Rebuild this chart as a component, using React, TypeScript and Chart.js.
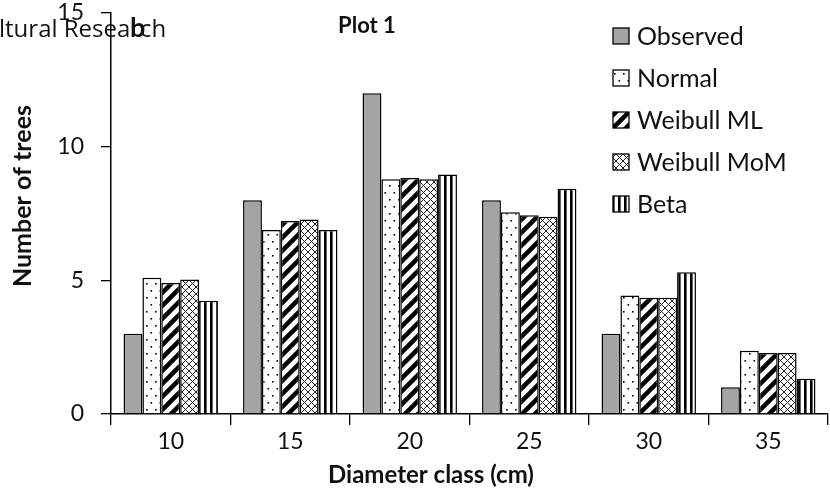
import React, { useEffect, useRef } from 'react';
import { Chart, registerables } from 'chart.js';

Chart.register(...registerables);

const categories = ['10', '15', '20', '25', '30', '35'];
const observed = [3, 8, 12, 8, 3, 1];
const normal = [5.1, 6.88, 8.78, 7.55, 4.43, 2.37];
const weibullML = [4.9, 7.22, 8.83, 7.43, 4.35, 2.28];
const weibullMoM = [5.03, 7.28, 8.78, 7.38, 4.35, 2.28];
const beta = [4.24, 6.88, 8.96, 8.43, 5.3, 1.32];
const seriesLabels = ['Observed', 'Normal', 'Weibull ML', 'Weibull MoM', 'Beta'];
const yMax = 15;
const yStep = 5;
const chartTitle = 'Plot 1';
const panelLetter = 'b';
const headerFragment = 'ltural Research';
const xTitle = 'Diameter class (cm)';
const yTitle = 'Number of trees';

function tile(w: number, h: number, draw: (c: CanvasRenderingContext2D) => void): CanvasPattern | string {
  const cv = document.createElement('canvas');
  cv.width = w;
  cv.height = h;
  const c = cv.getContext('2d')!;
  c.fillStyle = '#ffffff';
  c.fillRect(0, 0, w, h);
  draw(c);
  const ctx = document.createElement('canvas').getContext('2d')!;
  return ctx.createPattern(cv, 'repeat') || '#fff';
}

function makeFills() {
  const gray = '#a4a4a4';
  const dots = tile(9, 14, (c) => {
    c.fillStyle = '#000';
    c.fillRect(2, 3, 1.6, 1.6);
    c.fillRect(6.5, 10, 1.6, 1.6);
  });
  const diag = tile(13, 13, (c) => {
    c.strokeStyle = '#000';
    c.lineWidth = 4.5;
    c.lineCap = 'square';
    c.beginPath();
    c.moveTo(-2, 15); c.lineTo(15, -2);
    c.moveTo(-8, 8); c.lineTo(8, -8);
    c.moveTo(5, 21); c.lineTo(21, 5);
    c.stroke();
  });
  const cross = tile(7, 7, (c) => {
    c.strokeStyle = '#222';
    c.lineWidth = 1;
    c.beginPath();
    c.moveTo(0, 0); c.lineTo(7, 7);
    c.moveTo(0, 7); c.lineTo(7, 0);
    c.stroke();
  });
  const vert = tile(6, 2, (c) => {
    c.fillStyle = '#000';
    c.fillRect(0, 0, 2.6, 2);
  });
  return [gray, dots, diag, cross, vert];
}

const overlayPlugin = {
  id: 'overlayTexts',
  afterDraw(chart: any) {
    const ctx = chart.ctx as CanvasRenderingContext2D;
    ctx.save();
    ctx.fillStyle = '#111';
    // header fragment at top-left
    ctx.font = '24px "Open Sans"';
    ctx.textBaseline = 'alphabetic';
    ctx.textAlign = 'left';
    ctx.fillText(headerFragment, -1, 37);
    // panel letter
    ctx.font = 'bold 27px Lato';
    ctx.fillText(panelLetter, 130, 37);
    // title
    ctx.font = 'bold 22px Lato';
    ctx.textAlign = 'center';
    ctx.textBaseline = 'middle';
    ctx.fillText(chartTitle, 367, 26);
    // axis titles
    ctx.font = 'bold 24px Lato';
    ctx.fillText(xTitle, 431, 475);
    ctx.save();
    ctx.translate(23, 196);
    ctx.rotate(-Math.PI / 2);
    ctx.font = 'bold 25px Lato';
    ctx.fillText(yTitle, 0, 0);
    ctx.restore();
    // legend
    ctx.textAlign = 'left';
    chart.data.datasets.forEach((ds: any, i: number) => {
      const y = 36 + i * 42;
      ctx.fillStyle = ds.backgroundColor;
      ctx.fillRect(613, y - 8, 16, 16);
      ctx.lineWidth = 1.3;
      ctx.strokeStyle = '#000';
      ctx.strokeRect(613, y - 8, 16, 16);
      ctx.fillStyle = '#111';
      ctx.font = '25px Lato';
      ctx.textBaseline = 'middle';
      ctx.fillText(ds.label, 637, y + 1);
    });
    ctx.restore();
  },
};

export default function App() {
  const ref = useRef<HTMLCanvasElement | null>(null);
  useEffect(() => {
    if (!ref.current) return;
    const fills = makeFills();
    const series = [observed, normal, weibullML, weibullMoM, beta];
    const chart = new Chart(ref.current, {
      type: 'bar',
      data: {
        labels: categories,
        datasets: series.map((d, i) => ({
          label: seriesLabels[i],
          data: d,
          backgroundColor: fills[i] as any,
          borderColor: '#000',
          borderWidth: 1.5,
          categoryPercentage: 0.79,
          barPercentage: 1,
        })),
      },
      options: {
        animation: false,
        responsive: false,
        maintainAspectRatio: false,
        layout: { padding: { top: 13, right: 2, left: 0, bottom: 0 } },
        plugins: {
          legend: { display: false },
          tooltip: { enabled: false },
          title: { display: false },
        },
        scales: {
          x: {
            grid: { offset: true, drawOnChartArea: false, drawTicks: true, tickLength: 11, color: '#000', lineWidth: 1.3 },
            border: { color: '#000', width: 1.5 },
            ticks: { color: '#111', font: { family: 'Lato', size: 23 }, padding: 3 },
            afterFit: (s: any) => {
              s.height = 89;
              s.paddingLeft = 0;
              s.paddingRight = 0;
            },
          },
          y: {
            min: 0,
            max: yMax,
            ticks: { stepSize: yStep, color: '#111', font: { family: 'Lato', size: 23 }, padding: 17 },
            grid: { drawOnChartArea: false, drawTicks: true, tickLength: 10, color: '#000', lineWidth: 1.3 },
            border: { color: '#000', width: 1.5 },
            afterFit: (s: any) => {
              s.width = 111;
              s.paddingTop = 0;
              s.paddingBottom = 0;
            },
          },
        },
      } as any,
      plugins: [overlayPlugin],
    });
    return () => chart.destroy();
  }, []);
  return (
    <div style={{ position: 'absolute', left: 0, top: 0, width: 830, height: 503, background: '#fff' }}>
      <canvas ref={ref} width={830} height={503} style={{ display: 'block' }} />
    </div>
  );
}
